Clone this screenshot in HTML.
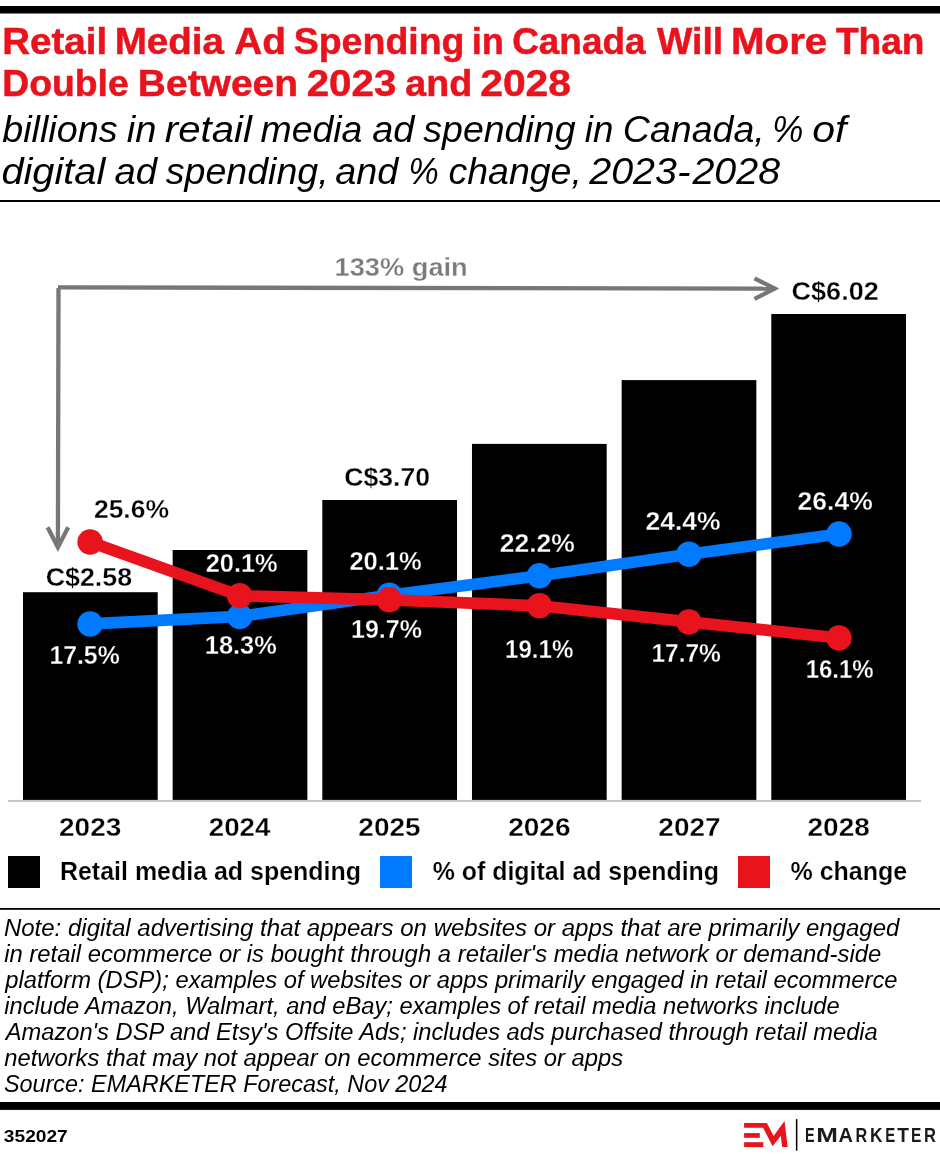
<!DOCTYPE html>
<html><head><meta charset="utf-8"><title>Retail Media Ad Spending in Canada</title>
<style>
html,body{margin:0;padding:0;background:#fff;}
body{width:940px;height:1154px;overflow:hidden;font-family:"Liberation Sans",sans-serif;}
svg{display:block;will-change:transform;}
text{font-family:"Liberation Sans",sans-serif;}
</style></head><body>
<svg width="940" height="1154" viewBox="0 0 940 1154">
<rect x="0" y="0" width="940" height="1154" fill="#fff"/>
<rect x="0" y="6" width="940" height="7.5" fill="#000"/>
<rect x="0" y="200" width="940" height="2" fill="#000"/>
<g fill="#000">
<rect x="23.00" y="592.2" width="134.7" height="207.7"/>
<rect x="172.66" y="550.0" width="134.7" height="249.9"/>
<rect x="322.32" y="500.0" width="134.7" height="299.9"/>
<rect x="471.98" y="443.9" width="134.7" height="356.0"/>
<rect x="621.64" y="380.1" width="134.7" height="419.8"/>
<rect x="771.30" y="314.0" width="134.7" height="485.9"/>
</g>
<rect x="8" y="800" width="913" height="2" fill="#c6c6c6"/>
<g fill="none" stroke="#777" stroke-width="4.3">
<path d="M58 287.4 L775.5 288.6"/>
<path d="M58.5 287.9 L57.9 547.5"/>
<path d="M754.5 278.3 L774.7 288.6 L754.5 298.9" stroke-miterlimit="10"/>
<path d="M47.6 527.2 L57.9 547.3 L68.2 527.2" stroke-miterlimit="10"/>
</g>
<polyline fill="none" stroke-width="11.7" stroke-linejoin="round" stroke-linecap="round" stroke="#007aff" points="90.1,623.9 239.7,616.4 389.3,595.2 539.4,575.8 688.9,554.2 839.0,534.0"/>
<g fill="#007aff"><circle cx="90.1" cy="623.9" r="12.75"/><circle cx="239.7" cy="616.4" r="12.75"/><circle cx="389.3" cy="595.2" r="12.75"/><circle cx="539.4" cy="575.8" r="12.75"/><circle cx="688.9" cy="554.2" r="12.75"/><circle cx="839.0" cy="534.0" r="12.75"/></g>
<polyline fill="none" stroke-width="11.7" stroke-linejoin="round" stroke-linecap="round" stroke="#e8131d" points="90.1,541.9 239.7,595.8 389.3,599.8 539.4,605.8 688.9,621.9 839.0,638.0"/>
<g fill="#e8131d"><circle cx="90.1" cy="541.9" r="12.75"/><circle cx="239.7" cy="595.8" r="12.75"/><circle cx="389.3" cy="599.8" r="12.75"/><circle cx="539.4" cy="605.8" r="12.75"/><circle cx="688.9" cy="621.9" r="12.75"/><circle cx="839.0" cy="638.0" r="12.75"/></g>
<rect x="8" y="856" width="32" height="32" fill="#000"/>
<rect x="380" y="856" width="32" height="32" fill="#007aff"/>
<rect x="738" y="856" width="32" height="32" fill="#e8131d"/>
<rect x="0" y="908" width="940" height="1.8" fill="#000"/>
<rect x="0" y="1102" width="940" height="7.9" fill="#000"/>
<g fill="#e8131d">
<path d="M744.1 1123 L766.9 1123 L773.6 1136 L784.5 1121.1 L787.7 1147.1 L782.1 1147.1 L780.8 1135.7 L772.6 1146.3 L763.1 1127.8 L744.1 1127.8 Z"/>
<rect x="744.1" y="1133.1" width="15.7" height="4.7"/>
<rect x="744.1" y="1142.2" width="19.2" height="4.9"/>
</g>
<rect x="795.9" y="1119.1" width="1.5" height="31.6" fill="#000"/>
<text x="2.17" y="53.7" font-size="37.4" font-weight="bold" font-style="normal" fill="#e8131d" textLength="105.14" lengthAdjust="spacingAndGlyphs" stroke="#e8131d" stroke-width="0.5">Retail</text>
<text x="114.67" y="53.7" font-size="37.4" font-weight="bold" font-style="normal" fill="#e8131d" textLength="109.39" lengthAdjust="spacingAndGlyphs" stroke="#e8131d" stroke-width="0.5">Media</text>
<text x="234.31" y="53.7" font-size="37.4" font-weight="bold" font-style="normal" fill="#e8131d" textLength="51.73" lengthAdjust="spacingAndGlyphs" stroke="#e8131d" stroke-width="0.5">Ad</text>
<text x="293.70" y="53.7" font-size="37.4" font-weight="bold" font-style="normal" fill="#e8131d" textLength="170.84" lengthAdjust="spacingAndGlyphs" stroke="#e8131d" stroke-width="0.5">Spending</text>
<text x="471.63" y="53.7" font-size="37.4" font-weight="bold" font-style="normal" fill="#e8131d" textLength="32.18" lengthAdjust="spacingAndGlyphs" stroke="#e8131d" stroke-width="0.5">in</text>
<text x="512.17" y="53.7" font-size="37.4" font-weight="bold" font-style="normal" fill="#e8131d" textLength="133.41" lengthAdjust="spacingAndGlyphs" stroke="#e8131d" stroke-width="0.5">Canada</text>
<text x="657.05" y="53.7" font-size="37.4" font-weight="bold" font-style="normal" fill="#e8131d" textLength="66.14" lengthAdjust="spacingAndGlyphs" stroke="#e8131d" stroke-width="0.5">Will</text>
<text x="730.95" y="53.7" font-size="37.4" font-weight="bold" font-style="normal" fill="#e8131d" textLength="96.34" lengthAdjust="spacingAndGlyphs" stroke="#e8131d" stroke-width="0.5">More</text>
<text x="835.95" y="53.7" font-size="37.4" font-weight="bold" font-style="normal" fill="#e8131d" textLength="88.50" lengthAdjust="spacingAndGlyphs" stroke="#e8131d" stroke-width="0.5">Than</text>
<text x="2.25" y="95.9" font-size="37.4" font-weight="bold" font-style="normal" fill="#e8131d" textLength="126.51" lengthAdjust="spacingAndGlyphs" stroke="#e8131d" stroke-width="0.5">Double</text>
<text x="137.84" y="95.9" font-size="37.4" font-weight="bold" font-style="normal" fill="#e8131d" textLength="160.27" lengthAdjust="spacingAndGlyphs" stroke="#e8131d" stroke-width="0.5">Between</text>
<text x="306.70" y="95.9" font-size="37.4" font-weight="bold" font-style="normal" fill="#e8131d" textLength="89.70" lengthAdjust="spacingAndGlyphs" stroke="#e8131d" stroke-width="0.5">2023</text>
<text x="405.34" y="95.9" font-size="37.4" font-weight="bold" font-style="normal" fill="#e8131d" textLength="66.91" lengthAdjust="spacingAndGlyphs" stroke="#e8131d" stroke-width="0.5">and</text>
<text x="480.18" y="95.9" font-size="37.4" font-weight="bold" font-style="normal" fill="#e8131d" textLength="90.86" lengthAdjust="spacingAndGlyphs" stroke="#e8131d" stroke-width="0.5">2028</text>
<text x="2.28" y="141.9" font-size="36" font-weight="normal" font-style="italic" fill="#000" textLength="115.27" lengthAdjust="spacingAndGlyphs" >billions</text>
<text x="126.87" y="141.9" font-size="36" font-weight="normal" font-style="italic" fill="#000" textLength="29.65" lengthAdjust="spacingAndGlyphs" >in</text>
<text x="164.86" y="141.9" font-size="36" font-weight="normal" font-style="italic" fill="#000" textLength="86.93" lengthAdjust="spacingAndGlyphs" >retail</text>
<text x="260.52" y="141.9" font-size="36" font-weight="normal" font-style="italic" fill="#000" textLength="101.84" lengthAdjust="spacingAndGlyphs" >media</text>
<text x="372.21" y="141.9" font-size="36" font-weight="normal" font-style="italic" fill="#000" textLength="42.19" lengthAdjust="spacingAndGlyphs" >ad</text>
<text x="423.34" y="141.9" font-size="36" font-weight="normal" font-style="italic" fill="#000" textLength="152.17" lengthAdjust="spacingAndGlyphs" >spending</text>
<text x="584.79" y="141.9" font-size="36" font-weight="normal" font-style="italic" fill="#000" textLength="28.57" lengthAdjust="spacingAndGlyphs" >in</text>
<text x="622.82" y="141.9" font-size="36" font-weight="normal" font-style="italic" fill="#000" textLength="141.87" lengthAdjust="spacingAndGlyphs" >Canada,</text>
<text x="772.17" y="141.9" font-size="36" font-weight="normal" font-style="italic" fill="#000" textLength="31.10" lengthAdjust="spacingAndGlyphs" >%</text>
<text x="812.27" y="141.9" font-size="36" font-weight="normal" font-style="italic" fill="#000" textLength="34.24" lengthAdjust="spacingAndGlyphs" >of</text>
<text x="1.42" y="183.5" font-size="36" font-weight="normal" font-style="italic" fill="#000" textLength="103.92" lengthAdjust="spacingAndGlyphs" >digital</text>
<text x="114.50" y="183.5" font-size="36" font-weight="normal" font-style="italic" fill="#000" textLength="42.58" lengthAdjust="spacingAndGlyphs" >ad</text>
<text x="165.84" y="183.5" font-size="36" font-weight="normal" font-style="italic" fill="#000" textLength="162.78" lengthAdjust="spacingAndGlyphs" >spending,</text>
<text x="335.31" y="183.5" font-size="36" font-weight="normal" font-style="italic" fill="#000" textLength="63.02" lengthAdjust="spacingAndGlyphs" >and</text>
<text x="408.54" y="183.5" font-size="36" font-weight="normal" font-style="italic" fill="#000" textLength="30.19" lengthAdjust="spacingAndGlyphs" >%</text>
<text x="448.50" y="183.5" font-size="36" font-weight="normal" font-style="italic" fill="#000" textLength="133.38" lengthAdjust="spacingAndGlyphs" >change,</text>
<text x="589.27" y="183.5" font-size="36" font-weight="normal" font-style="italic" fill="#000" textLength="87.70" lengthAdjust="spacingAndGlyphs" >2023</text>
<text x="676.93" y="183.5" font-size="36" font-weight="normal" font-style="italic" fill="#000" textLength="13.60" lengthAdjust="spacingAndGlyphs" >-</text>
<text x="692.47" y="183.5" font-size="36" font-weight="normal" font-style="italic" fill="#000" textLength="87.60" lengthAdjust="spacingAndGlyphs" >2028</text>
<text x="334.56" y="276.0" font-size="26.6" font-weight="bold" font-style="normal" fill="#7b7b7b" textLength="133.21" lengthAdjust="spacingAndGlyphs" stroke="#fff" stroke-width="0.3">133% gain</text>
<text x="791.61" y="300.0" font-size="26" font-weight="bold" font-style="normal" fill="#000" textLength="87.07" lengthAdjust="spacingAndGlyphs" stroke="#fff" stroke-width="0.3">C$6.02</text>
<text x="344.23" y="486.3" font-size="26" font-weight="bold" font-style="normal" fill="#000" textLength="85.74" lengthAdjust="spacingAndGlyphs" stroke="#fff" stroke-width="0.3">C$3.70</text>
<text x="45.72" y="586.1" font-size="26" font-weight="bold" font-style="normal" fill="#000" textLength="86.40" lengthAdjust="spacingAndGlyphs" stroke="#fff" stroke-width="0.3">C$2.58</text>
<text x="93.93" y="518.0" font-size="26" font-weight="bold" font-style="normal" fill="#000" textLength="75.07" lengthAdjust="spacingAndGlyphs" stroke="#fff" stroke-width="0.3">25.6%</text>
<text x="49.40" y="664.0" font-size="25.6" font-weight="bold" font-style="normal" fill="#fff" textLength="70.31" lengthAdjust="spacingAndGlyphs" stroke="#000" stroke-width="0.3">17.5%</text>
<text x="204.86" y="654.0" font-size="25.6" font-weight="bold" font-style="normal" fill="#fff" textLength="71.86" lengthAdjust="spacingAndGlyphs" stroke="#000" stroke-width="0.3">18.3%</text>
<text x="205.66" y="572.3" font-size="25.6" font-weight="bold" font-style="normal" fill="#fff" textLength="72.07" lengthAdjust="spacingAndGlyphs" stroke="#000" stroke-width="0.3">20.1%</text>
<text x="349.45" y="570.2" font-size="25.6" font-weight="bold" font-style="normal" fill="#fff" textLength="72.27" lengthAdjust="spacingAndGlyphs" stroke="#000" stroke-width="0.3">20.1%</text>
<text x="350.98" y="638.2" font-size="25.6" font-weight="bold" font-style="normal" fill="#fff" textLength="70.93" lengthAdjust="spacingAndGlyphs" stroke="#000" stroke-width="0.3">19.7%</text>
<text x="499.71" y="552.3" font-size="25.6" font-weight="bold" font-style="normal" fill="#fff" textLength="75.13" lengthAdjust="spacingAndGlyphs" stroke="#000" stroke-width="0.3">22.2%</text>
<text x="505.04" y="658.0" font-size="25.6" font-weight="bold" font-style="normal" fill="#fff" textLength="68.36" lengthAdjust="spacingAndGlyphs" stroke="#000" stroke-width="0.3">19.1%</text>
<text x="645.51" y="530.2" font-size="25.6" font-weight="bold" font-style="normal" fill="#fff" textLength="75.13" lengthAdjust="spacingAndGlyphs" stroke="#000" stroke-width="0.3">24.4%</text>
<text x="797.61" y="510.1" font-size="25.6" font-weight="bold" font-style="normal" fill="#fff" textLength="75.13" lengthAdjust="spacingAndGlyphs" stroke="#000" stroke-width="0.3">26.4%</text>
<text x="651.41" y="662.1" font-size="25.6" font-weight="bold" font-style="normal" fill="#fff" textLength="69.49" lengthAdjust="spacingAndGlyphs" stroke="#000" stroke-width="0.3">17.7%</text>
<text x="805.64" y="678.2" font-size="25.6" font-weight="bold" font-style="normal" fill="#fff" textLength="68.05" lengthAdjust="spacingAndGlyphs" stroke="#000" stroke-width="0.3">16.1%</text>
<text x="59.07" y="836.0" font-size="25.8" font-weight="bold" font-style="normal" fill="#000" textLength="62.25" lengthAdjust="spacingAndGlyphs" stroke="#fff" stroke-width="0.3">2023</text>
<text x="208.78" y="836.0" font-size="25.8" font-weight="bold" font-style="normal" fill="#000" textLength="61.52" lengthAdjust="spacingAndGlyphs" stroke="#fff" stroke-width="0.3">2024</text>
<text x="358.37" y="836.0" font-size="25.8" font-weight="bold" font-style="normal" fill="#000" textLength="62.18" lengthAdjust="spacingAndGlyphs" stroke="#fff" stroke-width="0.3">2025</text>
<text x="508.16" y="836.0" font-size="25.8" font-weight="bold" font-style="normal" fill="#000" textLength="62.35" lengthAdjust="spacingAndGlyphs" stroke="#fff" stroke-width="0.3">2026</text>
<text x="658.37" y="836.0" font-size="25.8" font-weight="bold" font-style="normal" fill="#000" textLength="62.12" lengthAdjust="spacingAndGlyphs" stroke="#fff" stroke-width="0.3">2027</text>
<text x="807.46" y="836.0" font-size="25.8" font-weight="bold" font-style="normal" fill="#000" textLength="62.35" lengthAdjust="spacingAndGlyphs" stroke="#fff" stroke-width="0.3">2028</text>
<text x="59.94" y="880.0" font-size="26.3" font-weight="bold" font-style="normal" fill="#000" textLength="301.11" lengthAdjust="spacingAndGlyphs" stroke="#fff" stroke-width="0.2">Retail media ad spending</text>
<text x="432.79" y="880.0" font-size="26.3" font-weight="bold" font-style="normal" fill="#000" textLength="286.19" lengthAdjust="spacingAndGlyphs" stroke="#fff" stroke-width="0.2">% of digital ad spending</text>
<text x="790.49" y="880.0" font-size="26.3" font-weight="bold" font-style="normal" fill="#000" textLength="116.78" lengthAdjust="spacingAndGlyphs" stroke="#fff" stroke-width="0.2">% change</text>
<text x="3.92" y="935.8" font-size="23" font-weight="normal" font-style="italic" fill="#000" textLength="895.45" lengthAdjust="spacingAndGlyphs" >Note: digital advertising that appears on websites or apps that are primarily engaged</text>
<text x="4.18" y="961.9" font-size="23" font-weight="normal" font-style="italic" fill="#000" textLength="877.08" lengthAdjust="spacingAndGlyphs" >in retail ecommerce or is bought through a retailer's media network or demand-side</text>
<text x="5.22" y="988.1" font-size="23" font-weight="normal" font-style="italic" fill="#000" textLength="892.30" lengthAdjust="spacingAndGlyphs" >platform (DSP); examples of websites or apps primarily engaged in retail ecommerce</text>
<text x="4.18" y="1014.2" font-size="23" font-weight="normal" font-style="italic" fill="#000" textLength="835.56" lengthAdjust="spacingAndGlyphs" >include Amazon, Walmart, and eBay; examples of retail media networks include</text>
<text x="5.73" y="1040.2" font-size="23" font-weight="normal" font-style="italic" fill="#000" textLength="872.06" lengthAdjust="spacingAndGlyphs" >Amazon's DSP and Etsy's Offsite Ads; includes ads purchased through retail media</text>
<text x="4.18" y="1066.4" font-size="23" font-weight="normal" font-style="italic" fill="#000" textLength="618.88" lengthAdjust="spacingAndGlyphs" >networks that may not appear on ecommerce sites or apps</text>
<text x="3.94" y="1092.3" font-size="23" font-weight="normal" font-style="italic" fill="#000" textLength="443.47" lengthAdjust="spacingAndGlyphs" >Source: EMARKETER Forecast, Nov 2024</text>
<text x="3.84" y="1141.7" font-size="17.2" font-weight="bold" font-style="normal" fill="#000" textLength="63.91" lengthAdjust="spacingAndGlyphs" >352027</text>
<text x="804.89" y="1141.9" font-size="19.9" font-weight="bold" font-style="normal" fill="#1a1a1a" textLength="9.68" lengthAdjust="spacingAndGlyphs" >E</text>
<text x="816.27" y="1141.9" font-size="19.9" font-weight="bold" font-style="normal" fill="#1a1a1a" textLength="21.67" lengthAdjust="spacingAndGlyphs" >M</text>
<text x="838.50" y="1141.9" font-size="19.9" font-weight="bold" font-style="normal" fill="#1a1a1a" textLength="14.43" lengthAdjust="spacingAndGlyphs" >A</text>
<text x="855.58" y="1141.9" font-size="19.9" font-weight="bold" font-style="normal" fill="#1a1a1a" textLength="11.73" lengthAdjust="spacingAndGlyphs" >R</text>
<text x="870.11" y="1141.9" font-size="19.9" font-weight="bold" font-style="normal" fill="#1a1a1a" textLength="12.51" lengthAdjust="spacingAndGlyphs" >K</text>
<text x="885.26" y="1141.9" font-size="19.9" font-weight="bold" font-style="normal" fill="#1a1a1a" textLength="10.03" lengthAdjust="spacingAndGlyphs" >E</text>
<text x="897.16" y="1141.9" font-size="19.9" font-weight="bold" font-style="normal" fill="#1a1a1a" textLength="11.69" lengthAdjust="spacingAndGlyphs" >T</text>
<text x="911.12" y="1141.9" font-size="19.9" font-weight="bold" font-style="normal" fill="#1a1a1a" textLength="10.39" lengthAdjust="spacingAndGlyphs" >E</text>
<text x="924.06" y="1141.9" font-size="19.9" font-weight="bold" font-style="normal" fill="#1a1a1a" textLength="11.95" lengthAdjust="spacingAndGlyphs" >R</text>
</svg>
</body></html>
